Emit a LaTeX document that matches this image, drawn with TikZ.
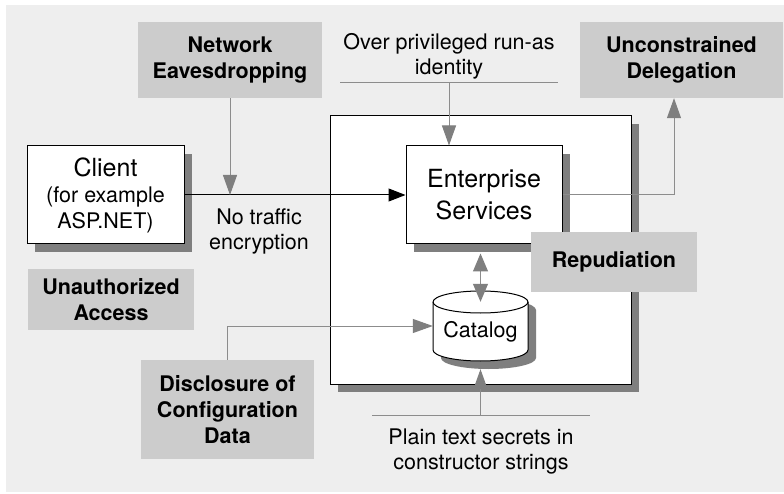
\documentclass[tikz,border=0pt]{standalone}
\usepackage{fontspec}
\setmainfont{TeX Gyre Heros}
\usetikzlibrary{arrows.meta}
\definecolor{bgc}{HTML}{EEEEEE}
\definecolor{labc}{HTML}{CCCCCC}
\definecolor{shc}{HTML}{7F7F7F}
\definecolor{lnc}{HTML}{8C8C8C}
\begin{document}
\begin{tikzpicture}[x=1pt,y=-1pt,
  threat/.style={fill=labc, font=\bfseries\fontsize{21.5}{26}\selectfont, align=center, inner sep=0pt},
  wbox/.style={draw=black, fill=white, line width=1pt, inner sep=0pt},
  shadowbox/.style={fill=shc, draw=none, inner sep=0pt, outer sep=0pt},
  note/.style={font=\fontsize{21.5}{25}\selectfont, align=center, inner sep=0pt},
  gline/.style={draw=lnc, line width=1pt},
  garrow/.style={draw=lnc, line width=1pt, -{Triangle[length=20pt,width=14pt,color=shc]}},
  gdouble/.style={draw=lnc, line width=1pt, {Triangle[length=18pt,width=15pt,color=shc]}-{Triangle[length=18pt,width=15pt,color=shc]}},
  barrow/.style={draw=black, line width=1pt, -{Triangle[length=17pt,width=13pt]}}
]
\useasboundingbox (0,0) rectangle (784,494);
\fill[bgc] (6,5) rectangle (784,492);

% threat labels at top
\node[threat, minimum width=184, minimum height=76] (eav) at (230,60) {Network\\Eavesdropping};
\node[threat, minimum width=203, minimum height=76] (udel) at (681.5,60) {Unconstrained\\Delegation};

% run-as note
\node[note] (priv) at (449,56) {Over privileged run-as\\identity};
\coordinate (privL) at (340,83);
\coordinate (privR) at (558,83);
\coordinate (privA) at (449,83);
\draw[gline] (privL) -- (privR);

% outer server box with shadow
\node[shadowbox, minimum width=301, minimum height=268] (outersh) at (488.5,258) {};
\node[wbox, minimum width=301, minimum height=268] (outer) at (480.5,250) {};

% client and enterprise services with shadows
\node[shadowbox, minimum width=157, minimum height=98] (clientsh) at (113.5,203) {};
\node[shadowbox, minimum width=156, minimum height=98] (entsh) at (492,203) {};
\node[wbox, minimum width=157, minimum height=98, align=center,
      font=\fontsize{21.5}{26}\selectfont] (client) at (105.5,195)
      {{\fontsize{25}{27}\selectfont Client}\\(for example\\ASP.NET)};
\node[wbox, minimum width=156, minimum height=98, align=center,
      font=\fontsize{25}{32}\selectfont] (ent) at (484,195) {Enterprise\\Services};

% catalog cylinder
\fill[shc] (441,310) -- (441,358) arc (180:360:47.5pt and 11pt) -- (536,310) arc (0:180:47.5pt and 11pt) -- cycle;
\draw[fill=white, line width=1pt] (433,302) -- (433,350) arc (180:360:47.5pt and 11pt) -- (528,302) arc (0:180:47.5pt and 11pt) -- cycle;
\draw[line width=1pt] (433,302) arc (180:360:47.5pt and 11pt);
\node[inner sep=0pt, minimum width=95, minimum height=70, text height=28pt, text depth=4.5pt,
      font=\fontsize{21.5}{25}\selectfont] (cat) at (480.5,326) {Catalog};

% no traffic note
\node[note] (notr) at (259,231) {No traffic\\encryption};

% repudiation and others
\node[threat, minimum width=166, minimum height=60] (rep) at (614,262) {Repudiation};
\node[threat, minimum width=166, minimum height=61] (unauth) at (111,299.5) {Unauthorized\\Access};
\node[threat, minimum width=173, minimum height=99] (disc) at (227.5,409.5) {Disclosure of\\Configuration\\Data};

% plain text note
\node[note] (plain) at (481,452) {Plain text secrets in\\constructor strings};
\coordinate (plL) at (372,415);
\coordinate (plR) at (590,415);
\coordinate (plA) at (480.5,415);
\draw[gline] (plL) -- (plR);

% connectors
\draw[barrow] (client.east) -- (ent.west);
\draw[garrow] (eav.south) -- (eav.south |- client.east);
\draw[garrow] (privA) -- (privA |- ent.north);
\draw[garrow] (ent.east) -- ([xshift=-7.5pt]udel.south |- ent.east) -- ([xshift=-7.5pt]udel.south);
\draw[gdouble] ([yshift=-9pt]ent.south -| cat.north) -- ([yshift=-11pt]cat.north);
\draw[garrow] (disc.north) -- (disc.north |- cat.west) -- (cat.west);
\draw[garrow] (plA) -- ([yshift=-8pt]cat.south);
\end{tikzpicture}
\end{document}
